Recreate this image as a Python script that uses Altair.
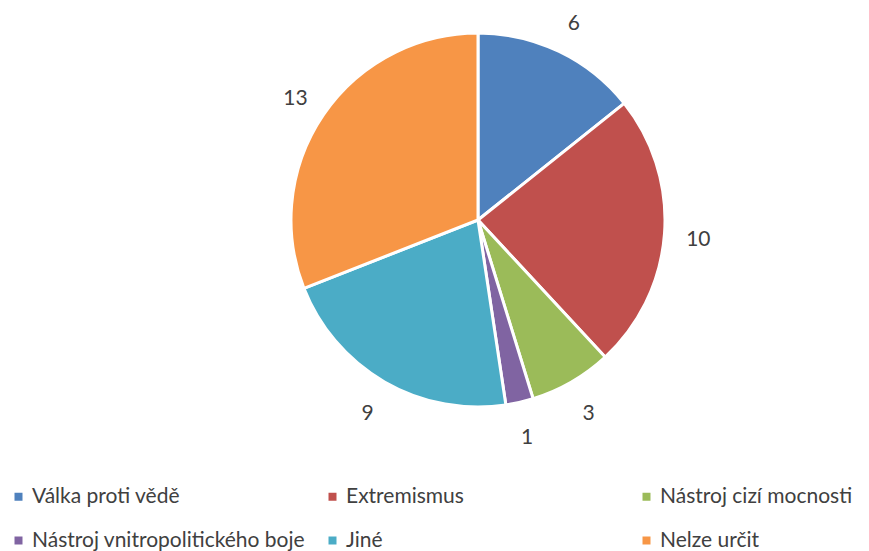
import altair as alt
import pandas as pd

categories = ["Válka proti vědě", "Extremismus", "Nástroj cizí mocnosti",
              "Nástroj vnitropolitického boje", "Jiné", "Nelze určit"]
values = [6, 10, 3, 1, 9, 13]
colors = ["#4F81BD", "#C0504D", "#9BBB59", "#8064A2", "#4BACC6", "#F79646"]

df = pd.DataFrame({"cat": categories, "value": values, "idx": list(range(len(values)))})

FONT = "Lato"
CX, CY = 470, 212

base = alt.Chart(df).encode(
    theta=alt.Theta("value:Q", stack=True),
    order=alt.Order("idx:Q", sort="ascending"),
)

arcs = base.mark_arc(outerRadius=187, stroke="white", strokeWidth=3).encode(
    x=alt.value(CX), y=alt.value(CY),
    color=alt.Color("cat:N",
                    scale=alt.Scale(domain=categories, range=colors),
                    legend=alt.Legend(
                        title=None, orient="none", legendX=0, legendY=478,
                        columns=3, gridAlign="all", columnPadding=16,
                        rowPadding=22, symbolType="square", symbolSize=64,
                        symbolStrokeWidth=0, labelFont=FONT, labelFontSize=21,
                        labelColor="#404040", labelOffset=3, labelLimit=400,
                        padding=0, direction="horizontal")),
)

labels = base.mark_text(radius=221, dy=3, font=FONT, fontSize=21, color="#404040").encode(
    x=alt.value(CX), y=alt.value(CY),
    text=alt.Text("value:Q"),
)

chart = alt.layer(arcs, labels).properties(
    width=853, height=535, padding=0).configure_view(stroke=None)

chart.save("out.html", embed_options={"renderer": "svg", "actions": False})
